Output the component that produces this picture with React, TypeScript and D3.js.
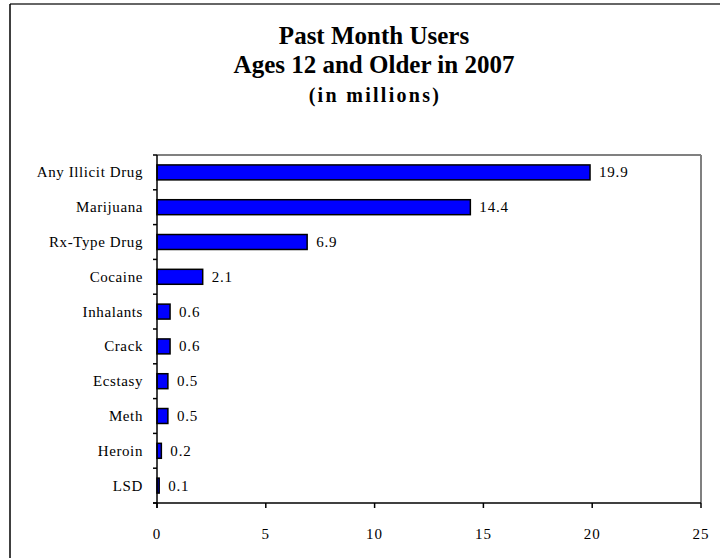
import React from "react";
import * as d3 from "d3";

const categories = ["Any Illicit Drug", "Marijuana", "Rx-Type Drug", "Cocaine", "Inhalants", "Crack", "Ecstasy", "Meth", "Heroin", "LSD"];
const values = [19.9, 14.4, 6.9, 2.1, 0.6, 0.6, 0.5, 0.5, 0.2, 0.1];
const xTicks = [0, 5, 10, 15, 20, 25];
const titleLines = ["Past Month Users", "Ages 12 and Older in 2007"];
const subtitle = "(in millions)";

const W = 720;
const H = 558;
const FONT = "'Liberation Serif', 'Times New Roman', serif";

export default function App() {
  const left = 157;
  const right = 701;
  const top = 155;
  const bottom = 503;
  const x = d3.scaleLinear().domain([0, 25]).range([left, right]);
  const y = d3.scaleBand<string>().domain(categories).range([top, bottom]).paddingInner(0.57).paddingOuter(0.285);
  const band = d3.scaleBand<string>().domain(categories).range([top, bottom]);
  const boundaries = d3.range(categories.length + 1).map((i) => top + i * band.step());

  return (
    <svg width={W} height={H} style={{ position: "fixed", left: 0, top: 0, background: "#fff" }} fontFamily={FONT}>
      <rect x={0} y={0} width={W} height={H} fill="#fff" />
      {/* outer frame */}
      <line x1={10} y1={4} x2={W + 5} y2={4} stroke="#333" strokeWidth={1.5} />
      <line x1={10} y1={4} x2={10} y2={H + 5} stroke="#000" strokeWidth={1.5} />

      {/* titles */}
      {titleLines.map((t, i) => (
        <text key={t} x={374} y={44 + i * 29} textAnchor="middle" fontSize={25} fontWeight="bold" fill="#000">
          {t}
        </text>
      ))}
      <text x={375} y={102} textAnchor="middle" fontSize={20} fontWeight="bold" letterSpacing={2.3} fill="#000">
        {subtitle}
      </text>

      {/* plot frame */}
      <line x1={left} y1={top} x2={right} y2={top} stroke="#808080" strokeWidth={2} />
      <line x1={right} y1={top} x2={right} y2={bottom} stroke="#808080" strokeWidth={2} />

      {/* bars */}
      {categories.map((c, i) => (
        <rect
          key={c}
          x={x(0)}
          y={y(c)}
          width={x(values[i]) - x(0)}
          height={y.bandwidth()}
          fill="#0000ff"
          stroke="#000"
          strokeWidth={1.5}
        />
      ))}

      {/* value labels */}
      {categories.map((c, i) => (
        <text
          key={c + "v"}
          x={x(values[i]) + 9}
          y={(y(c) as number) + y.bandwidth() / 2}
          dy="0.33em"
          fontSize={15}
          letterSpacing={0.8}
          fill="#000"
        >
          {values[i].toFixed(1)}
        </text>
      ))}

      {/* y axis */}
      <line x1={left} y1={top} x2={left} y2={bottom + 5} stroke="#000" strokeWidth={1.5} />
      {boundaries.map((b, i) => (
        <line key={"yt" + i} x1={left - 4} y1={b} x2={left} y2={b} stroke="#000" strokeWidth={1.5} />
      ))}
      {categories.map((c) => (
        <text
          key={c + "l"}
          x={left - 14}
          y={(band(c) as number) + band.bandwidth() / 2}
          dy="0.33em"
          textAnchor="end"
          fontSize={15}
          letterSpacing={0.6}
          fill="#000"
        >
          {c}
        </text>
      ))}

      {/* x axis */}
      <line x1={left - 4} y1={bottom} x2={right} y2={bottom} stroke="#000" strokeWidth={1.5} />
      {xTicks.map((t) => (
        <g key={"xt" + t}>
          <line x1={x(t)} y1={bottom} x2={x(t)} y2={bottom + 5} stroke="#000" strokeWidth={1.5} />
          <text x={x(t)} y={539} textAnchor="middle" fontSize={15} letterSpacing={1} fill="#000">
            {t}
          </text>
        </g>
      ))}
    </svg>
  );
}
